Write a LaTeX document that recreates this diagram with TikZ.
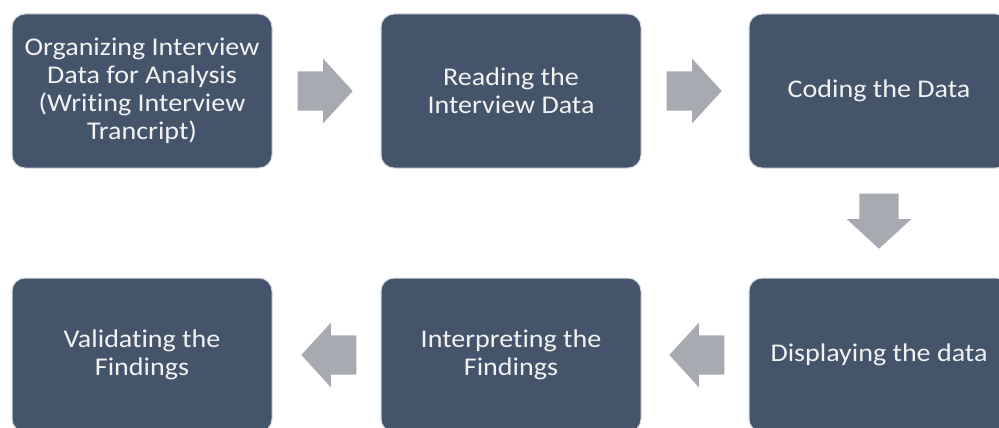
\documentclass[tikz,border=0pt]{standalone}
\usepackage{fontspec}
\setmainfont{Carlito}[Ligatures=NoCommon, FakeStretch=1.1]
\usetikzlibrary{positioning, shapes.arrows, calc}

\definecolor{boxfill}{HTML}{44546A}
\definecolor{boxedge}{HTML}{D5D9DF}
\definecolor{arrowfill}{HTML}{A8AAB2}
\definecolor{boxtext}{HTML}{F2F2F2}

\begin{document}
\begin{tikzpicture}[x=1pt, y=-1pt,
    stepbox/.style={draw=boxedge, line width=1pt, fill=boxfill, rounded corners=13pt,
      minimum width=260pt, minimum height=154pt, inner sep=0pt,
      text=boxtext, align=center, font=\fontsize{25.5}{28}\selectfont},
    blockarrow/.style={single arrow, fill=arrowfill, draw=none, anchor=tail,
      inner xsep=0pt, inner ysep=19.5pt,
      minimum height=55pt, single arrow head extend=12.5pt,
      single arrow tip angle=95},
    downarrow/.style={blockarrow, shape border rotate=270,
      inner xsep=19.5pt, inner ysep=0pt}]
    \path[use as bounding box, clip] (0,0) rectangle (999,428);

    % top row
    \node[stepbox] (org_box) at (142,91) {Organizing Interview\\Data for Analysis\\(Writing Interview\\Trancript)};
    \node[stepbox, right=108pt of org_box] (read_box) {Reading the\\Interview Data};
    \node[stepbox, right=107pt of read_box] (code_box) {Coding the Data};

    % bottom row
    \node[stepbox, below=109pt of code_box] (disp_box) {Displaying the data};
    \node[stepbox, left=107pt of disp_box] (interp_box) {Interpreting the\\Findings};
    \node[stepbox, left=108pt of interp_box] (valid_box) {Validating the\\Findings};

    % block arrows
    \node[blockarrow] (arr1) at ($(org_box.east)+(25,0)$) {};
    \node[blockarrow] (arr2) at ($(read_box.east)+(25,0)$) {};
    \node[downarrow] (arr3) at ($(code_box.south)+(0,25)$) {};
    \node[blockarrow, shape border rotate=180] (arr4) at ($(disp_box.west)+(-24,0)$) {};
    \node[blockarrow, shape border rotate=180] (arr5) at ($(interp_box.west)+(-24,0)$) {};

\end{tikzpicture}
\end{document}
